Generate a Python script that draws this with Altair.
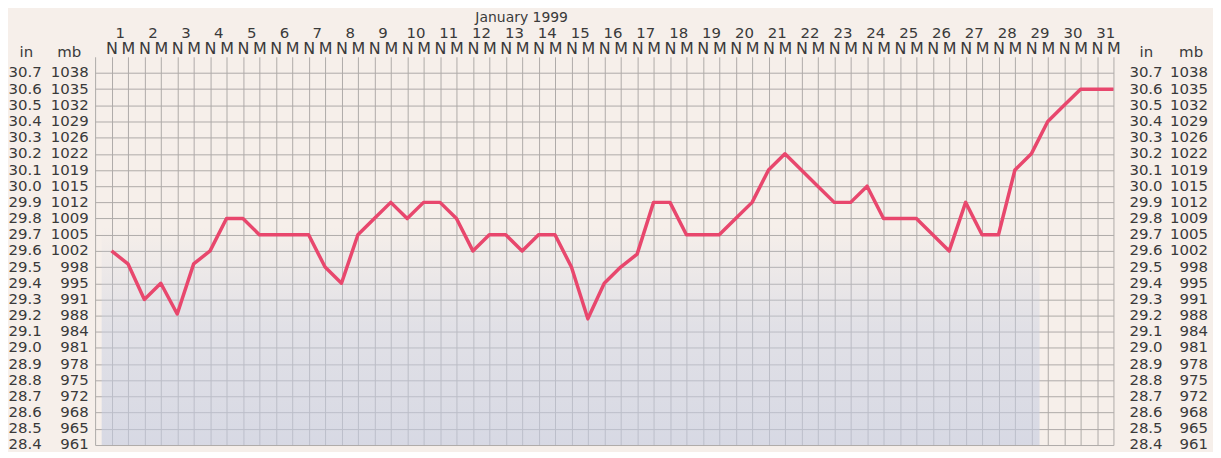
import altair as alt
import pandas as pd

# ---------------- data ----------------
days = [str(d) for d in range(1, 32)]
slot_labels = ["N", "M"]
# barometric pressure (inches) at noon (N) and midnight (M) for each day, Jan 1999
pressure_in = [
    29.60, 29.52, 29.30, 29.40, 29.21, 29.52, 29.60, 29.80, 29.80, 29.70,
    29.70, 29.70, 29.70, 29.50, 29.40, 29.70, 29.80, 29.90, 29.80, 29.90,
    29.90, 29.80, 29.60, 29.70, 29.70, 29.60, 29.70, 29.70, 29.50, 29.18,
    29.40, 29.50, 29.58, 29.90, 29.90, 29.70, 29.70, 29.70, 29.80, 29.90,
    30.10, 30.20, 30.10, 30.00, 29.90, 29.90, 30.00, 29.80, 29.80, 29.80,
    29.70, 29.60, 29.90, 29.70, 29.70, 30.10, 30.20, 30.40, 30.50, 30.60,
    30.60, 30.60,
]
in_ticks = [28.4, 28.5, 28.6, 28.7, 28.8, 28.9, 29.0, 29.1, 29.2, 29.3, 29.4, 29.5,
            29.6, 29.7, 29.8, 29.9, 30.0, 30.1, 30.2, 30.3, 30.4, 30.5, 30.6, 30.7]
mb_labels = ["961", "965", "968", "972", "975", "978", "981", "984", "988", "991", "995", "998",
             "1002", "1005", "1009", "1012", "1015", "1019", "1022", "1026", "1029", "1032", "1035", "1038"]
# soft bluish photo tint in the lower part of the chart (data units)
tint_x = [-0.6]
tint_x2 = [56.5]
tint_y = [28.4]
tint_y2 = [29.75]

df = pd.DataFrame({"idx": list(range(len(pressure_in))), "inches": pressure_in})
tint = pd.DataFrame({"x": tint_x, "x2": tint_x2, "y": tint_y, "y2": tint_y2})

W, H = 1023, 390
FONT = "DejaVu Sans"
TXT = "#3a3a3a"


def xs():
    return alt.Scale(domain=[-1, 61], nice=False, zero=False)


def ys():
    return alt.Scale(domain=[28.4, 30.8], nice=False, zero=False)


mb_expr = "[" + ",".join("'" + m + "'" for m in mb_labels) + "][round((datum.value - 28.4) * 10)]"
slot_expr = "datum.value < 0 ? '' : ['" + "','".join(slot_labels) + "'][datum.value % 2]"
day_expr = "[" + ",".join("'" + d + "'" for d in days) + "][round((datum.value - 0.5) / 2)]"
day_vals = [2 * i + 0.5 for i in range(len(days))]

bg = alt.Chart(tint).mark_rect(
    color=alt.Gradient(
        gradient="linear",
        stops=[alt.GradientStop(color="rgba(200,207,226,0)", offset=0),
               alt.GradientStop(color="rgba(200,207,226,0.45)", offset=0.45),
               alt.GradientStop(color="rgba(196,203,224,0.62)", offset=1)],
        x1=0, x2=0, y1=0, y2=1,
    )
).encode(
    x=alt.X("x:Q", scale=xs(), axis=None),
    x2="x2:Q",
    y=alt.Y("y2:Q", scale=ys(), axis=None),
    y2="y:Q",
)

line = alt.Chart(df).mark_line(color="#e8476d", strokeWidth=3.5, strokeJoin="round").encode(
    x=alt.X("idx:Q", scale=xs(), axis=alt.Axis(
        orient="top", values=list(range(-1, 62)), labelExpr=slot_expr, grid=True,
        labelPadding=0, title=None, labelAngle=0, labelFontSize=16)),
    y=alt.Y("inches:Q", scale=ys(), axis=alt.Axis(
        orient="left", values=in_ticks, labelExpr="format(datum.value, '.1f')", grid=True,
        labelAlign="right", labelPadding=54, labelOffset=-1,
        title="in", titleAngle=0, titleX=-69.5, titleY=0, titleAlign="center",
        titleBaseline="alphabetic")),
)

days_layer = alt.Chart(df).mark_line(strokeOpacity=0).encode(
    x=alt.X("idx:Q", scale=xs(), axis=alt.Axis(
        orient="top", values=day_vals, labelExpr=day_expr, grid=False,
        labelPadding=16.5, labelAngle=0,
        title="January 1999", titleX=428, titleY=-35.5, titleAlign="center",
        titleBaseline="alphabetic", titleFontSize=14)),
    y=alt.Y("inches:Q", scale=ys(), axis=None),
)

mb_left = alt.Chart(df).mark_line(strokeOpacity=0).encode(
    x=alt.X("idx:Q", scale=xs(), axis=None),
    y=alt.Y("inches:Q", scale=ys(), axis=alt.Axis(
        orient="left", values=in_ticks, labelExpr=mb_expr, grid=False,
        labelAlign="right", labelPadding=7, labelOffset=-1,
        title="mb", titleAngle=0, titleX=-26.5, titleY=0, titleAlign="center",
        titleBaseline="alphabetic")),
)

in_right = alt.Chart(df).mark_line(strokeOpacity=0).encode(
    x=alt.X("idx:Q", scale=xs(), axis=None),
    y=alt.Y("inches:Q", scale=ys(), axis=alt.Axis(
        orient="right", values=in_ticks, labelExpr="format(datum.value, '.1f')", grid=False,
        labelAlign="left", labelPadding=15.5, labelOffset=-1,
        title="in", titleAngle=0, titleX=32.5, titleY=0, titleAlign="center",
        titleBaseline="alphabetic")),
)

mb_right = alt.Chart(df).mark_line(strokeOpacity=0).encode(
    x=alt.X("idx:Q", scale=xs(), axis=None),
    y=alt.Y("inches:Q", scale=ys(), axis=alt.Axis(
        orient="right", values=in_ticks, labelExpr=mb_expr, grid=False,
        labelAlign="right", labelPadding=94.5, labelOffset=-1,
        title="mb", titleAngle=0, titleX=77.5, titleY=0, titleAlign="center",
        titleBaseline="alphabetic")),
)

chart = alt.layer(bg, line, days_layer, mb_left, in_right, mb_right).resolve_scale(
    x="independent", y="independent"
).properties(
    width=W, height=H,
    autosize=alt.AutoSizeParams(type="none"),
    padding={"left": 87.5, "top": 48, "right": 100, "bottom": 6},
).configure(
    background="#f6efea"
).configure_view(
    stroke=None
).configure_axis(
    labelFont=FONT, labelFontSize=15, labelColor=TXT,
    titleFont=FONT, titleFontSize=15, titleFontWeight="normal", titleColor=TXT,
    domain=False, ticks=False, labelFlush=False, labelOverlap=False, labelBound=False,
    gridColor="#aeaaa8", gridWidth=1, gridOpacity=1,
)

chart.save("out.html", embed_options={"renderer": "svg", "actions": False})
